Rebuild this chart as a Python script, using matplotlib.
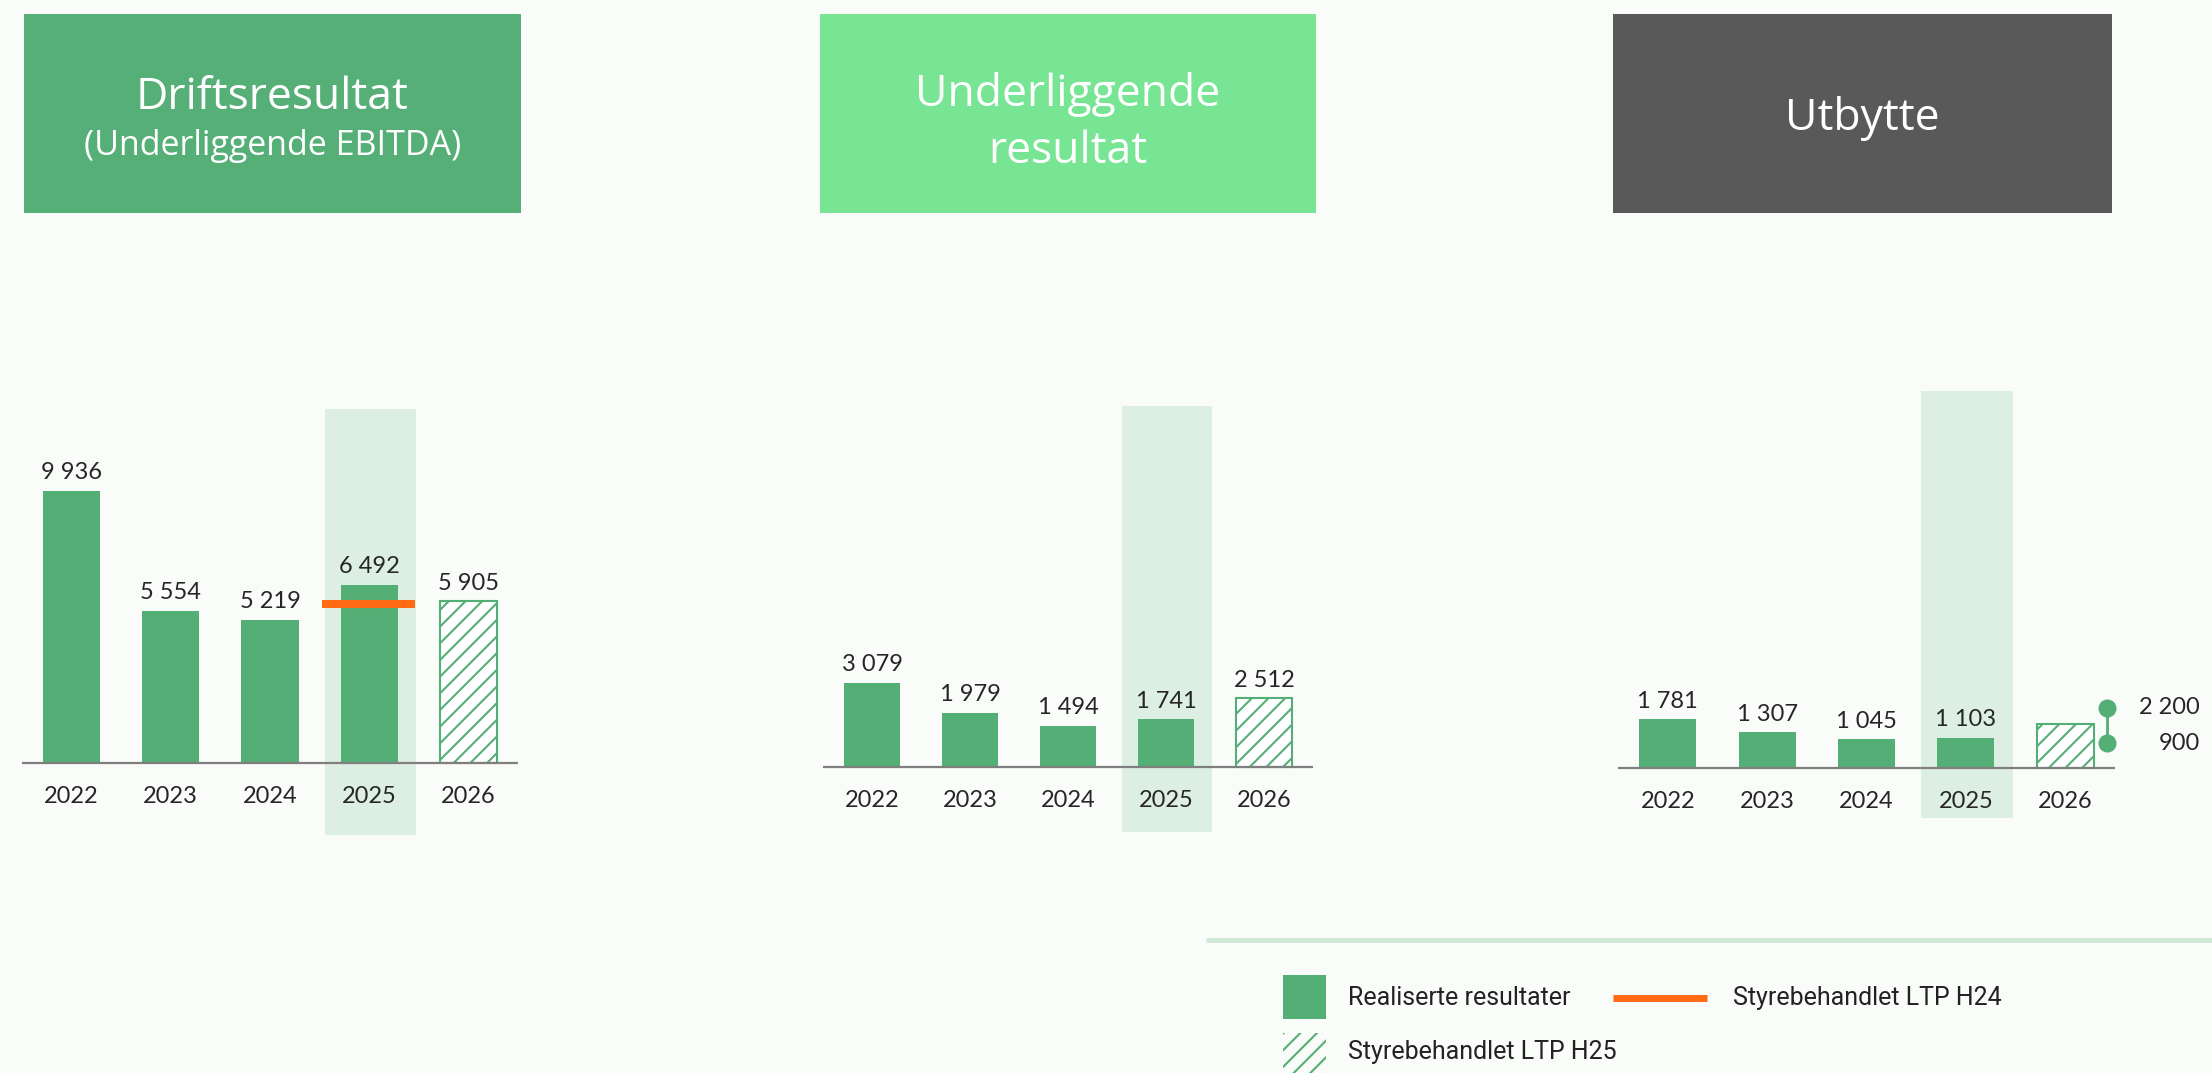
import matplotlib
matplotlib.use('Agg')
import matplotlib.pyplot as plt
from matplotlib.patches import Rectangle

# data
years = ['2022', '2023', '2024', '2025', '2026']
driftsresultat = [9936, 5554, 5219, 6492, 5905]
underliggende = [3079, 1979, 1494, 1741, 2512]
utbytte = [1781, 1307, 1045, 1103]
utbytte_2026 = 1600           # hatched bar, no label
utbytte_2026_range = [900, 2200]
ltp_h24_2025 = 5800

value_labels_1 = ['9 936', '5 554', '5 219', '6 492', '5 905']
value_labels_2 = ['3 079', '1 979', '1 494', '1 741', '2 512']
value_labels_3 = ['1 781', '1 307', '1 045', '1 103']
range_labels = ['900', '2 200']

titles = [['Driftsresultat', '(Underliggende EBITDA)'],
          ['Underliggende', 'resultat'],
          ['Utbytte']]
legend_labels = ['Realiserte resultater', 'Styrebehandlet LTP H24', 'Styrebehandlet LTP H25']

# styles
W, H = 2212, 1073
BG = '#FAFCFA'
GREEN = '#54AF76'
BAND = '#DDEFE3'
ORANGE = '#FF6A13'
TXT = '#262626'
AXC = '#7F7F7F'
HEAD_COLORS = ['#56AF77', '#77E594', '#595959']
K = 0.0274      # pixels per unit
BW = 0.575

plt.rcParams['hatch.linewidth'] = 1.5
plt.rcParams['font.family'] = 'Lato'

fig = plt.figure(figsize=(W / 100, H / 100), dpi=100, facecolor=BG)

# overlay in pixel coordinates for headers and legend
ov = fig.add_axes([0, 0, 1, 1])
ov.set_xlim(0, W)
ov.set_ylim(H, 0)
ov.axis('off')
ov.patch.set_alpha(0)

boxes = [(24, 497, [109, 155], [32, 24.5]),
         (820, 496, [106, 163], [32, 32]),
         (1613, 499, [130], [32])]
for (bx, bw, bases, sizes), lines, col in zip(boxes, titles, HEAD_COLORS):
    ov.add_patch(Rectangle((bx, 14), bw, 199, color=col, lw=0))
    for line, yb, fs in zip(lines, bases, sizes):
        ov.text(bx + bw / 2, yb, line, ha='center', va='baseline', color='white',
                fontsize=fs, family='Open Sans')


def panel(x0, x1, top, bot, base):
    ax = fig.add_axes([x0 / W, 1 - bot / H, (x1 - x0) / W, (bot - top) / H])
    ax.set_xlim(-0.5, 4.5)
    ax.set_ylim(-(bot - base) / K, (base - top) / K)
    ax.axis('off')
    ax.patch.set_alpha(0)
    ax.axvspan(2.55, 3.47, color=BAND, lw=0, zorder=0)
    ax.axhline(0, color=AXC, lw=1.6, zorder=3)
    for i, y in enumerate(years):
        ax.annotate(y, (i, 0), xytext=(0, -16.5), textcoords='offset points',
                    ha='center', va='top', fontsize=17, color=TXT)
    return ax


def labels(ax, vals, texts):
    for i, (v, t) in enumerate(zip(vals, texts)):
        ax.annotate(t, (i, v), xytext=(0, 5.5), textcoords='offset points',
                    ha='center', va='bottom', fontsize=17, color=TXT)


# panel 1
ax1 = panel(22, 518, 409, 835, 763)
ax1.bar(range(4), driftsresultat[:4], width=BW, color=GREEN, zorder=2)
ax1.bar(4, driftsresultat[4], width=BW, facecolor='white', edgecolor=GREEN,
        hatch='//', lw=1.5, zorder=2)
ax1.hlines(ltp_h24_2025, 2.52, 3.46, color=ORANGE, lw=5.8, zorder=4)
labels(ax1, driftsresultat, value_labels_1)

# panel 2
ax2 = panel(823, 1313, 406, 832, 767)
ax2.bar(range(4), underliggende[:4], width=BW, color=GREEN, zorder=2)
ax2.bar(4, underliggende[4], width=BW, facecolor='white', edgecolor=GREEN,
        hatch='//', lw=1.5, zorder=2)
labels(ax2, underliggende, value_labels_2)

# panel 3
ax3 = panel(1618, 2115, 391, 818, 768)
ax3.bar(range(4), utbytte, width=BW, color=GREEN, zorder=2)
ax3.bar(4, utbytte_2026, width=BW, facecolor='white', edgecolor=GREEN,
        hatch='//', lw=1.5, zorder=2)
labels(ax3, utbytte, value_labels_3)
ax3.plot([4.42, 4.42], utbytte_2026_range, color=GREEN, lw=2, marker='o',
         ms=12, zorder=4, clip_on=False)
for v, t in zip(utbytte_2026_range, range_labels):
    ax3.annotate(t, (4.42, v), xytext=(67, 0), textcoords='offset points',
                 ha='right', va='center', fontsize=17, color=TXT, annotation_clip=False)

# legend
ov.plot([1206, W], [940, 940], color='#CFE9D6', lw=3.5, solid_capstyle='butt')
ov.add_patch(Rectangle((1283, 975), 43, 44, color=GREEN, lw=0))
ov.text(1348, 998, legend_labels[0], va='center', fontsize=18, color='#222222', family='Roboto')
ov.plot([1613, 1707], [998, 998], color=ORANGE, lw=5, solid_capstyle='butt')
ov.text(1733, 998, legend_labels[1], va='center', fontsize=18, color='#222222', family='Roboto')
ov.add_patch(Rectangle((1283, 1033), 43, 44, facecolor=BG, edgecolor=GREEN,
                       hatch='//', lw=0))
ov.text(1348, 1052, legend_labels[2], va='center', fontsize=18, color='#222222', family='Roboto')

fig.savefig('out.png', dpi=100, facecolor=BG)
